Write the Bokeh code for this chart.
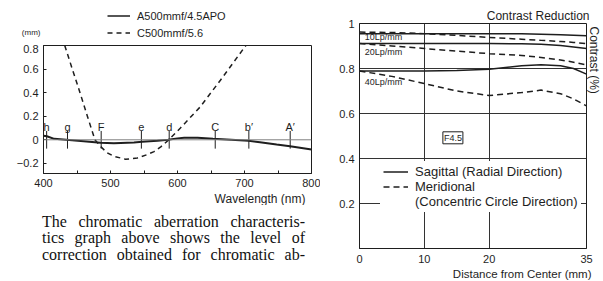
from bokeh.plotting import figure
from bokeh.models import (Range1d, FixedTicker, Label, Legend, LegendItem, Span, Div, Title)
from bokeh.layouts import row, column
from bokeh.core.properties import value
from bokeh.embed import file_html
from bokeh.resources import INLINE

FONT = "Liberation Sans"
SERIF = "Liberation Serif"
INK = "#1e1e1e"

# ---------------- left chart: chromatic aberration ----------------
wl_apo = [400, 405, 416, 434, 460, 485, 505, 535, 547, 570, 586, 600, 610, 630, 653, 680, 706, 723, 748, 768, 800]
ca_apo = [0.035, 0.03, 0.008, 0.0, -0.012, -0.026, -0.03, -0.022, -0.017, -0.008, 0.0, 0.012, 0.017, 0.017,
          0.008, 0.0, -0.008, -0.02, -0.04, -0.055, -0.082]
wl_std = [431.7, 443, 454.5, 465.5, 476.8, 485, 495, 505, 522.5, 540, 555, 565, 575, 587, 604, 634, 664, 702]
ca_std = [0.8, 0.6, 0.4, 0.2, 0.0, -0.056, -0.11, -0.14, -0.165, -0.155, -0.125, -0.1, -0.06, 0.0, 0.098,
          0.28, 0.505, 0.8]
fraun_names = ["h", "g", "F", "e", "d", "C", "b\u2032", "A\u2032"]
fraun_wl = [404.7, 435.8, 486.1, 546.1, 587.6, 656.3, 706.5, 768.2]
wl_ticks = [400, 500, 600, 700, 800]
wl_minor = [450, 550, 650, 750]
ca_ticks = [-0.2, 0, 0.2, 0.4, 0.6, 0.8]
ca_tick_labels = ["\u22120.2", "0", "0.2", "0.4", "0.6", "0.8"]
series_left = ["A500mmf/4.5APO", "C500mmf/5.6"]
unit_left = "(mm)"

# ---------------- right chart: MTF ----------------
dist = [0, 5, 10, 15, 20, 25, 28, 31, 33, 35]
sag10 = [0.955, 0.955, 0.955, 0.955, 0.955, 0.954, 0.952, 0.950, 0.948, 0.946]
mer10 = [0.962, 0.960, 0.955, 0.947, 0.938, 0.930, 0.925, 0.920, 0.916, 0.911]
sag20 = [0.911, 0.911, 0.911, 0.911, 0.911, 0.910, 0.908, 0.902, 0.896, 0.889]
mer20 = [0.911, 0.900, 0.889, 0.877, 0.866, 0.858, 0.849, 0.838, 0.828, 0.816]
sag40 = [0.789, 0.789, 0.789, 0.791, 0.797, 0.812, 0.817, 0.812, 0.800, 0.775]
mer40 = [0.789, 0.765, 0.733, 0.700, 0.680, 0.693, 0.704, 0.688, 0.665, 0.634]
lp_names = ["10Lp/mm", "20Lp/mm", "40Lp/mm"]
lp_label_y = [0.938, 0.873, 0.741]
dist_ticks = [0, 10, 20, 35]
contrast_ticks = [0.2, 0.4, 0.6, 0.8, 1.0]
contrast_tick_labels = ["0.2", "0.4", "0.6", "0.8", "1"]
legend_right = ["Sagittal (Radial Direction)", "Meridional", "(Concentric Circle Direction)"]

para_lines = ["The chromatic aberration characteris-",
              "tics graph above shows the level of",
              "correction obtained for chromatic ab-"]


def style_axis(ax, size="11px"):
    ax.axis_line_color = INK
    ax.major_label_text_font = FONT
    ax.major_label_text_font_size = size
    ax.major_label_text_color = INK


def plain_title(text, align, size="12px", standoff=0, offset=0):
    return Title(text=text, align=align, text_font=FONT, text_font_size=size, text_font_style="normal",
                 text_color=INK, standoff=standoff, offset=offset)


# ===== left header strip (legend + unit) =====
h1 = figure(width=320, height=44, output_backend="svg", toolbar_location=None,
            x_axis_type=None,
            x_range=Range1d(400, 800), y_range=Range1d(0.8084, 1.1789),
            min_border_left=43, min_border_right=9, min_border_top=0, min_border_bottom=0)
h1.outline_line_color = None
h1.background_fill_color = "white"
h1.border_fill_color = "white"
h1.grid.visible = False
ua = h1.yaxis[0]
ua.ticker = FixedTicker(ticks=[0.909], minor_ticks=[])
ua.major_label_overrides = {0.909: unit_left}
ua.axis_line_color = None
ua.major_tick_in = 0
ua.major_tick_out = 0
ua.minor_tick_in = 0
ua.minor_tick_out = 0
ua.major_label_standoff = 3
ua.major_label_text_font = FONT
ua.major_label_text_font_size = "8px"
ua.major_label_text_color = INK
k_apo = h1.line(wl_apo, ca_apo, line_color=INK, line_width=1.5)
k_std = h1.line(wl_std, ca_std, line_color=INK, line_width=1.5, line_dash="5 4")
leg1 = Legend(items=[LegendItem(label=series_left[0], renderers=[k_apo]),
                     LegendItem(label=series_left[1], renderers=[k_std])],
              location=(64, 3), orientation="vertical",
              background_fill_alpha=0, border_line_alpha=0, padding=0, margin=0, spacing=0,
              glyph_width=23, glyph_height=17, label_height=17, label_standoff=7,
              label_text_font=FONT, label_text_font_size="11px", label_text_color=INK)
h1.add_layout(leg1)

# ===== left figure =====
p1 = figure(width=320, height=161, output_backend="svg", toolbar_location=None,
            x_range=Range1d(400, 800), y_range=Range1d(-0.286, 0.8),
            min_border_left=43, min_border_right=9, min_border_top=1, min_border_bottom=31)
p1.background_fill_color = "white"
p1.border_fill_color = "white"
p1.outline_line_color = INK
p1.grid.visible = False
style_axis(p1.xaxis[0])
style_axis(p1.yaxis[0])
p1.xaxis.ticker = FixedTicker(ticks=wl_ticks, minor_ticks=wl_minor)
p1.xaxis.major_tick_in = 3
p1.xaxis.major_tick_out = 0
p1.xaxis.minor_tick_in = 3
p1.xaxis.minor_tick_out = 0
p1.xaxis.minor_tick_line_color = INK
p1.xaxis.major_tick_line_color = INK
p1.xaxis.major_label_standoff = 5
p1.yaxis.ticker = FixedTicker(ticks=ca_ticks, minor_ticks=[])
p1.yaxis.major_label_overrides = dict(zip(ca_ticks, ca_tick_labels))
p1.yaxis.major_tick_in = 3
p1.yaxis.major_tick_out = 0
p1.yaxis.major_tick_line_color = INK
p1.yaxis.major_label_standoff = 5

p1.add_layout(Span(location=0, dimension="width", line_color="#808080", line_width=1))
p1.segment(x0=fraun_wl, y0=[-0.075] * len(fraun_wl), x1=fraun_wl, y1=[0.075] * len(fraun_wl),
           line_color=INK, line_width=1)
p1.text(x=fraun_wl, y=[0.112] * len(fraun_wl), text=fraun_names, text_align="center",
        text_baseline="middle", text_font=value(FONT), text_font_size="11px", text_color=INK)

p1.line(wl_apo, ca_apo, line_color=INK, line_width=2)
p1.line(wl_std, ca_std, line_color=INK, line_width=1.5, line_dash="5 4")
p1.add_layout(plain_title("Wavelength (nm)", "right", size="12px", standoff=0, offset=6), "below")

# ===== text paragraph =====
para_html = ('<div style="width:263px;font-family:\'%s\';font-size:16px;line-height:16.3px;'
             'text-align:justify;text-align-last:justify;color:#111111;">%s</div>'
             % (SERIF, "<br>".join(para_lines)))
para = Div(text=para_html, width=263, height=50, margin=(9, 0, 0, 42))

# ===== right figure =====
p2 = figure(width=283, height=281, output_backend="svg", toolbar_location=None,
            x_range=Range1d(0, 35), y_range=Range1d(0, 1),
            min_border_left=39, min_border_right=15, min_border_top=23, min_border_bottom=33)
p2.background_fill_color = "white"
p2.border_fill_color = "white"
p2.outline_line_color = INK
p2.title.text = "Contrast Reduction"
p2.title.align = "right"
p2.title.text_font = FONT
p2.title.text_font_size = "12px"
p2.title.text_font_style = "normal"
p2.title.text_color = INK
p2.title.standoff = 2
p2.title.offset = -3
style_axis(p2.xaxis[0])
style_axis(p2.yaxis[0])
p2.xaxis.ticker = FixedTicker(ticks=dist_ticks, minor_ticks=[])
p2.yaxis.ticker = FixedTicker(ticks=contrast_ticks, minor_ticks=[])
p2.yaxis.major_label_overrides = dict(zip(contrast_ticks, contrast_tick_labels))
for ax in (p2.xaxis[0], p2.yaxis[0]):
    ax.major_tick_in = 0
    ax.major_tick_out = 0
    ax.minor_tick_in = 0
    ax.minor_tick_out = 0
p2.xaxis.major_label_standoff = 6
p2.yaxis.major_label_standoff = 5
p2.xgrid.ticker = FixedTicker(ticks=[10, 20])
p2.ygrid.ticker = FixedTicker(ticks=[0.2, 0.4, 0.6, 0.8])
p2.grid.grid_line_color = "#333333"
p2.grid.grid_line_width = 1

r_s10 = p2.line(dist, sag10, line_color=INK, line_width=1.5)
r_m10 = p2.line(dist, mer10, line_color=INK, line_width=1.5, line_dash="6 4")
p2.line(dist, sag20, line_color=INK, line_width=1.5)
p2.line(dist, mer20, line_color=INK, line_width=1.5, line_dash="6 4")
p2.line(dist, sag40, line_color=INK, line_width=1.5)
p2.line(dist, mer40, line_color=INK, line_width=1.5, line_dash="6 4")
r_blank = p2.line([], [], line_alpha=0)

p2.text(x=[0.8] * 3, y=lp_label_y, text=lp_names, text_align="left", text_baseline="middle",
        text_font=value(FONT), text_font_size="9px", text_color=INK)

leg2 = Legend(items=[LegendItem(label=legend_right[0], renderers=[r_s10]),
                     LegendItem(label=legend_right[1], renderers=[r_m10]),
                     LegendItem(label=legend_right[2], renderers=[r_blank])],
              location=(21, 36), orientation="vertical",
              background_fill_color="white", background_fill_alpha=1, border_line_alpha=0,
              padding=3, margin=0, spacing=0,
              glyph_width=25, glyph_height=15, label_height=15, label_standoff=7,
              label_text_font=FONT, label_text_font_size="13px", label_text_color=INK)
p2.add_layout(leg2)

p2.add_layout(Label(x=14.4, y=0.492, text="F4.5", text_align="center", text_baseline="middle",
                    text_font=FONT, text_font_size="9px", text_color=INK,
                    border_line_color=INK, border_line_width=1, padding=1))
p2.add_layout(plain_title("Contrast (%)", "left", size="12px", standoff=1, offset=3), "right")
p2.add_layout(plain_title("Distance from Center (mm)", "right", size="11.5px", standoff=0, offset=-5), "below")

layout = row(column(h1, p1, para, spacing=0), p2, spacing=0)

open("out.html", "w").write(file_html(layout, INLINE))
